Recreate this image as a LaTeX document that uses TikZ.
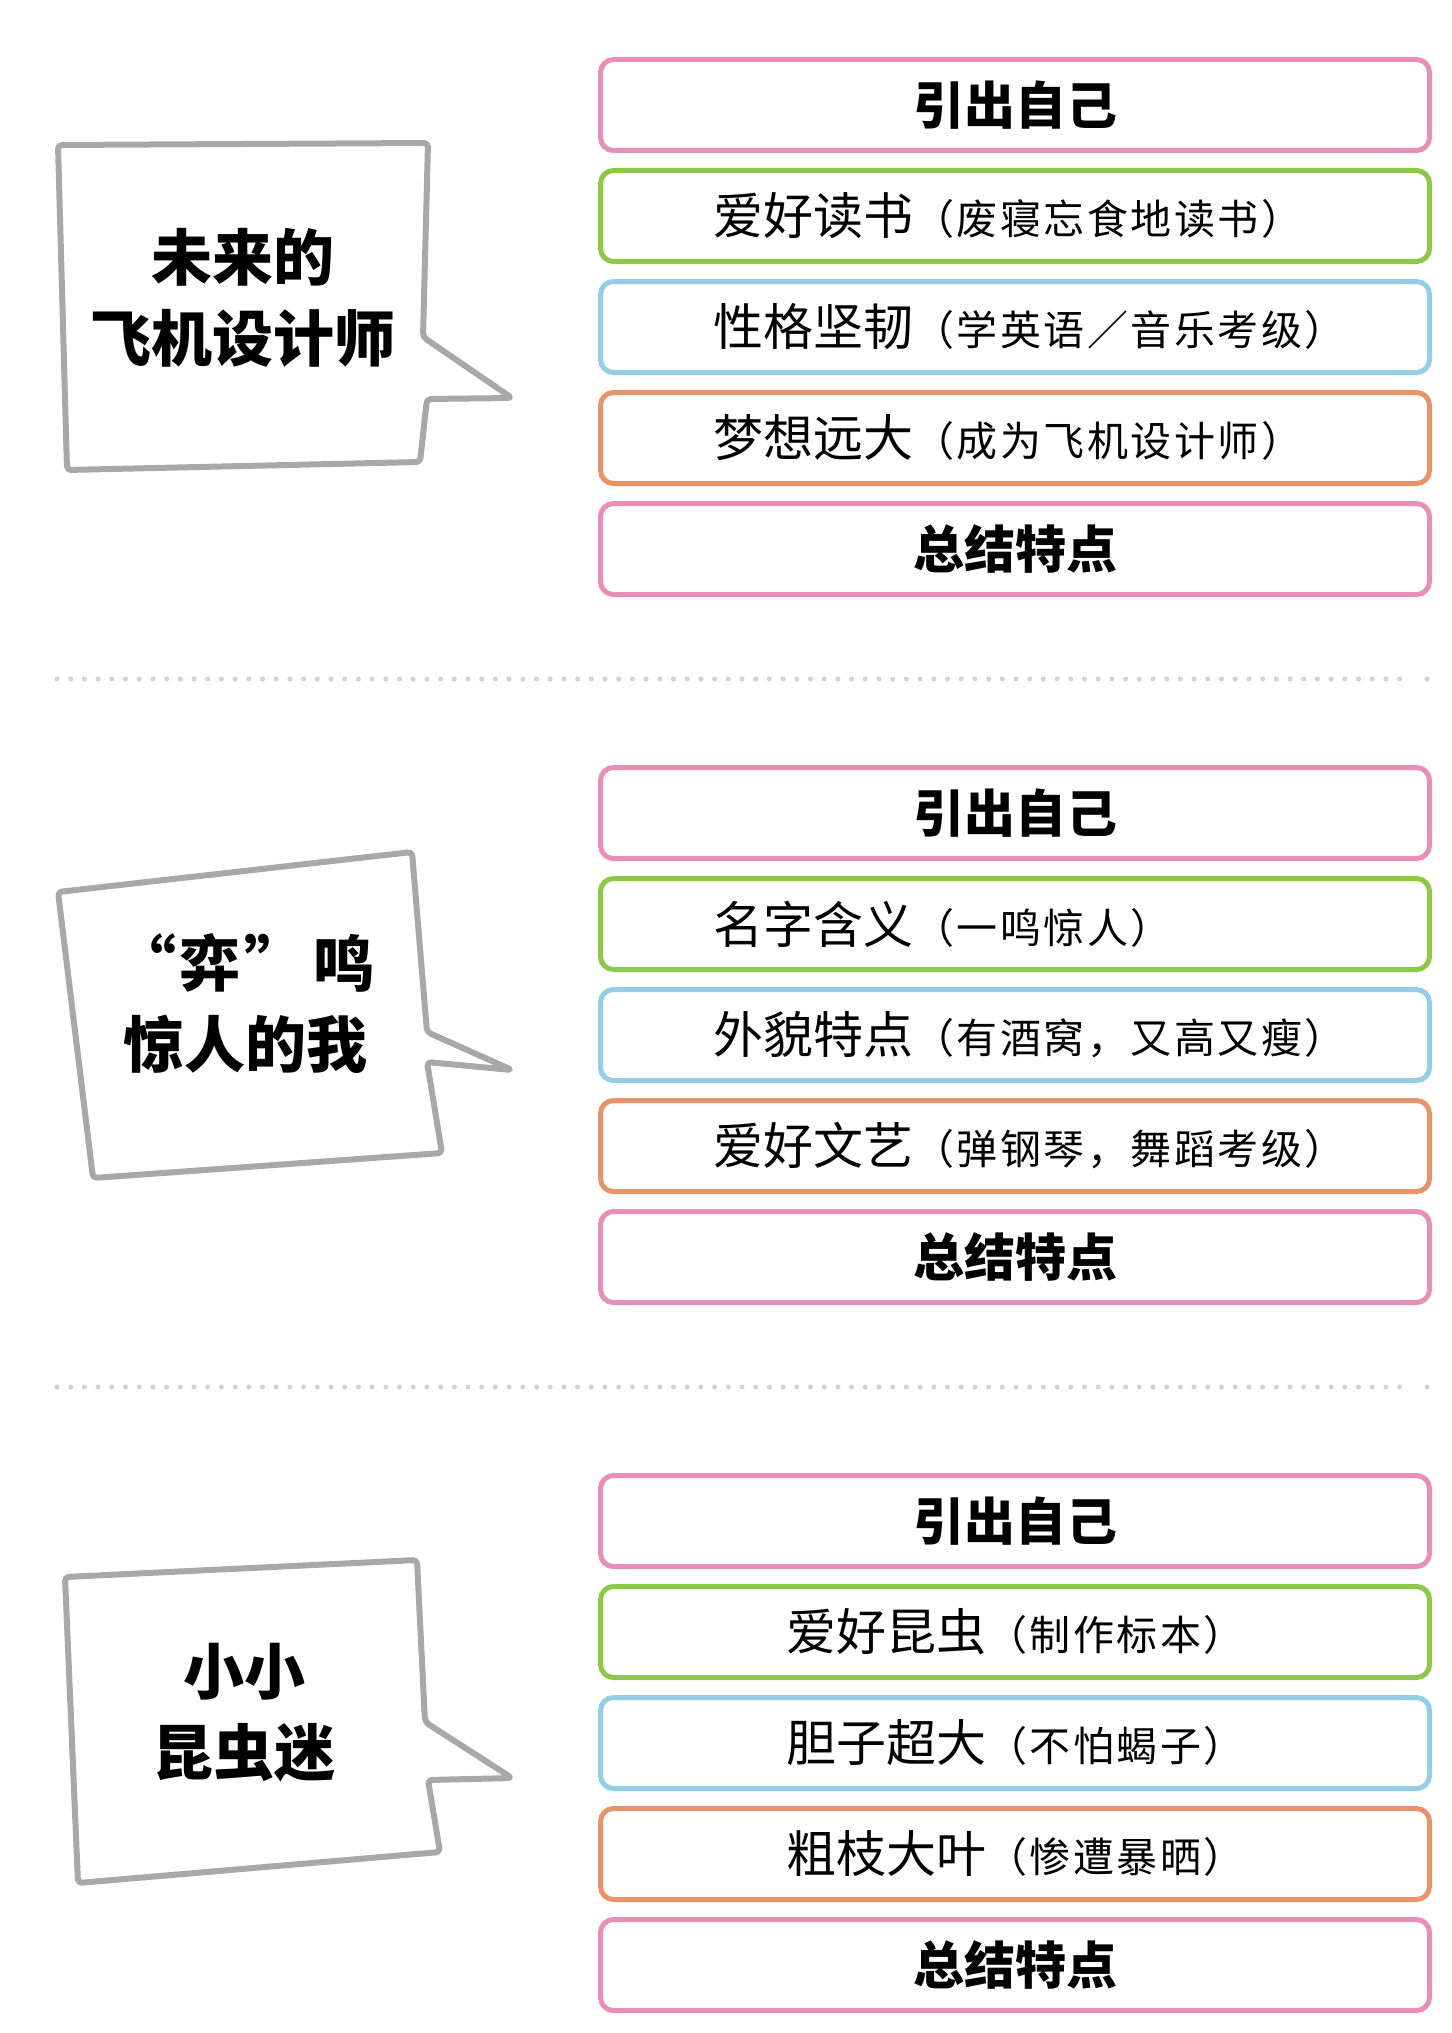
\documentclass[tikz,border=0pt]{standalone}
\usepackage{fontspec}
\newfontfamily\cjk{Noto Sans CJK SC}
\newfontfamily\cjkp{Noto Sans CJK SC}[LetterSpace=6]
\usetikzlibrary{calc}
\definecolor{pinkc}{HTML}{E78FB9}
\definecolor{greenc}{HTML}{8DC847}
\definecolor{bluec}{HTML}{93CDE8}
\definecolor{orangec}{HTML}{E8946A}
\definecolor{bubc}{HTML}{A8A8A8}
\definecolor{dotc}{HTML}{D2D2D2}
\newcommand\parenx[1]{{\cjkp\fontsize{20.5pt}{24pt}\selectfont #1}}
\begin{document}
\begin{tikzpicture}[x=0.5pt,y=-0.5pt,
  box/.style={draw, line width=2.5pt, rounded corners=6.5pt, minimum width=414.5pt, minimum height=45.5pt, inner sep=0pt},
  boldlbl/.style={font=\cjk\bfseries\fontsize{25.5pt}{30pt}\selectfont},
  lbl/.style={anchor=west, inner sep=0pt, font=\cjk\fontsize{25pt}{30pt}\selectfont},
  bubble/.style={draw=bubc, line width=3pt, line join=round, rounded corners=2pt},
  bubtext/.style={align=center, inner sep=0pt, font=\cjk\bfseries\fontsize{30.5pt}{40.5pt}\selectfont},
  dot/.style={fill=dotc, draw=none}]
\useasboundingbox (0,0) rectangle (1451,2033);

% ---------- section 1 ----------
\draw[bubble] (58,145) -- (428,143) -- (423,337) -- (512,398) -- (427,399) -- (420,462) -- (67,470) -- cycle;
\node[bubtext] (q1) at (243,298) {未来的\\飞机设计师};

\node[box, draw=pinkc, boldlbl] (a1) at (1015,105) {引出自己};
\node[box, draw=greenc] (a2) at (1015,216) {};
\node[box, draw=bluec] (a3) at (1015,327) {};
\node[box, draw=orangec] (a4) at (1015,438) {};
\node[box, draw=pinkc, boldlbl] (a5) at (1015,549) {总结特点};
\node[lbl] (ta2) at (713,216) {爱好读书\parenx{（废寝忘食地读书）}};
\node[lbl] (ta3) at (713,327) {性格坚韧\parenx{（学英语／音乐考级）}};
\node[lbl] (ta4) at (713,438) {梦想远大\parenx{（成为飞机设计师）}};

% dotted separator 1
\foreach \i in {0,...,98,100} \fill[dot] (57+13.7*\i,679) circle (1.25pt);

% ---------- section 2 ----------
\draw[bubble] (58,892) -- (412,852) -- (427,1032) -- (512,1070) -- (427,1062) -- (442,1153) -- (93,1178) -- cycle;
\node[bubtext] (q2) at (245,1004) {“\hspace{2pt}弈\hspace{2pt}”\hspace{4pt}鸣\\惊人的我};

\node[box, draw=pinkc, boldlbl] (b1) at (1015,813) {引出自己};
\node[box, draw=greenc] (b2) at (1015,924) {};
\node[box, draw=bluec] (b3) at (1015,1035) {};
\node[box, draw=orangec] (b4) at (1015,1146) {};
\node[box, draw=pinkc, boldlbl] (b5) at (1015,1257) {总结特点};
\node[lbl] (tb2) at (713,924) {名字含义\parenx{（一鸣惊人）}};
\node[lbl] (tb3) at (713,1035) {外貌特点\parenx{（有酒窝，又高又瘦）}};
\node[lbl] (tb4) at (713,1146) {爱好文艺\parenx{（弹钢琴，舞蹈考级）}};

% dotted separator 2
\foreach \i in {0,...,98,100} \fill[dot] (57+13.7*\i,1387) circle (1.25pt);

% ---------- section 3 ----------
\draw[bubble] (65,1577) -- (417,1560) -- (425,1722) -- (512,1778) -- (428,1780) -- (440,1852) -- (78,1883) -- cycle;
\node[bubtext] (q3) at (244,1713) {小小\\昆虫迷};

\node[box, draw=pinkc, boldlbl] (c1) at (1015,1521) {引出自己};
\node[box, draw=greenc] (c2) at (1015,1632) {};
\node[box, draw=bluec] (c3) at (1015,1743) {};
\node[box, draw=orangec] (c4) at (1015,1854) {};
\node[box, draw=pinkc, boldlbl] (c5) at (1015,1965) {总结特点};
\node[lbl] (tc2) at (786,1632) {爱好昆虫\parenx{（制作标本）}};
\node[lbl] (tc3) at (786,1743) {胆子超大\parenx{（不怕蝎子）}};
\node[lbl] (tc4) at (786,1854) {粗枝大叶\parenx{（惨遭暴晒）}};
\end{tikzpicture}
\end{document}
